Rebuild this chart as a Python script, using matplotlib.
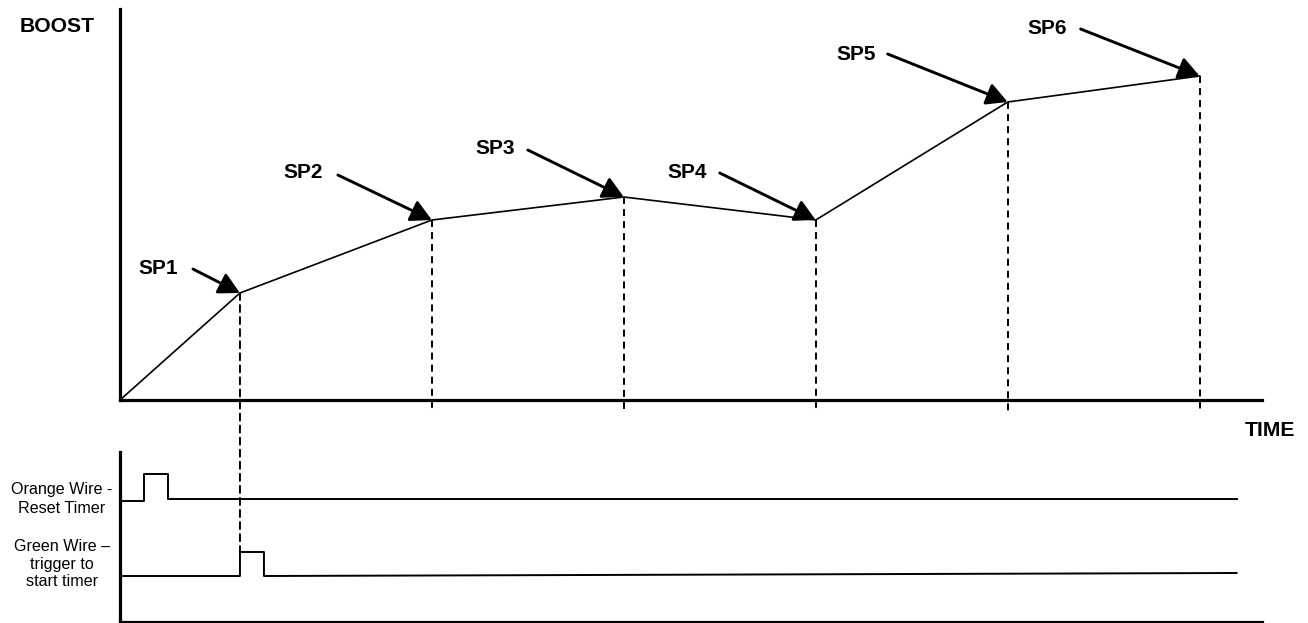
import matplotlib
matplotlib.use("Agg")
import matplotlib.pyplot as plt
from matplotlib.patches import ConnectionPatch

plt.rcParams['font.family'] = ['Liberation Sans', 'DejaVu Sans']

# boost set points (time units, boost units)
sp_names = ["SP1", "SP2", "SP3", "SP4", "SP5", "SP6"]
sp_time = [1.25, 3.25, 5.25, 7.25, 9.25, 11.25]
sp_boost = [10.7, 18.0, 20.3, 18.0, 29.8, 32.4]

# arrow start / label offsets (pixels, relative to each set point)
arrow_off = [(-47, 24), (-94, 45), (-96, 47), (-96, 47), (-120, 48), (-119, 47)]
label_off = [(-62, 24), (-109, 47), (-109, 48), (-109, 47), (-132, 48), (-133, 47)]

# wire signals (step traces)
orange_t = [0, 0.25, 0.25, 0.5, 0.5, 11.635]
orange_v = [12.1, 12.1, 14.8, 14.8, 12.3, 12.3]
green_t = [0, 1.25, 1.25, 1.5, 1.5, 11.635]
green_v = [4.6, 4.6, 7.0, 7.0, 4.6, 4.9]

W, H = 1308, 623
fig = plt.figure(figsize=(W / 100, H / 100), dpi=100)

ax = fig.add_axes([120 / W, (H - 400) / H, 1142 / W, 391 / H])
ax2 = fig.add_axes([120 / W, (H - 622) / H, 1142 / W, 170 / H])

dash = (0, (3.6, 2.6))
spine_w = 2.3

for a in (ax, ax2):
    for s in ("top", "right"):
        a.spines[s].set_visible(False)
    for s in ("left", "bottom"):
        a.spines[s].set_linewidth(spine_w)
        a.spines[s].set_color("black")
    a.set_xticks([])
    a.set_yticks([])
    a.set_xlim(0, 11.9)
    a.patch.set_alpha(0)

ax.set_ylim(0, 39.1)
ax2.set_ylim(0, 17)

# boost curve
ax.plot([0] + sp_time, [0] + sp_boost, color="black", lw=1.2, clip_on=False,
        solid_joinstyle="miter")

# dashed drop lines
for i, (t, b) in enumerate(zip(sp_time, sp_boost)):
    if i == 0:
        continue
    ax.plot([t, t], [b, -1.3], color="black", lw=1.4, linestyle=dash, clip_on=False)

# SP1 drop line continues into the wire panel
con = ConnectionPatch(xyA=(sp_time[0], sp_boost[0]), coordsA=ax.transData,
                      xyB=(green_t[2], green_v[2]), coordsB=ax2.transData,
                      color="black", lw=1.4, linestyle=dash)
fig.add_artist(con)

# labels with arrows
for name, t, b, ao, lo in zip(sp_names, sp_time, sp_boost, arrow_off, label_off):
    ax.annotate("", xy=(t, b), xytext=ao, textcoords="offset pixels",
                arrowprops=dict(arrowstyle="-|>,head_length=0.45,head_width=0.24",
                                color="black", lw=2.1,
                                mutation_scale=28, shrinkA=0, shrinkB=0),
                annotation_clip=False)
    ax.annotate(name, xy=(t, b), xytext=lo, textcoords="offset pixels",
                ha="right", va="center", fontsize=15, fontweight="bold",
                annotation_clip=False)

# wire signals
ax2.plot(orange_t, orange_v, color="black", lw=1.4, clip_on=False)
ax2.plot(green_t, green_v, color="black", lw=1.4, clip_on=False)

fig.text(57 / W, 1 - 27 / H, "BOOST", ha="center", va="center",
         fontsize=15.2, fontweight="bold")
fig.text(1270 / W, 1 - 430 / H, "TIME", ha="center", va="center",
         fontsize=15.2, fontweight="bold")
fig.text(62 / W, 1 - 499 / H, "Orange Wire -\nReset Timer", ha="center",
         va="center", fontsize=11.6, linespacing=1.3)
fig.text(62 / W, 1 - 564 / H, "Green Wire \u2013\ntrigger to\nstart timer",
         ha="center", va="center", fontsize=11.6, linespacing=1.2)

fig.savefig("out.png", dpi=100)
